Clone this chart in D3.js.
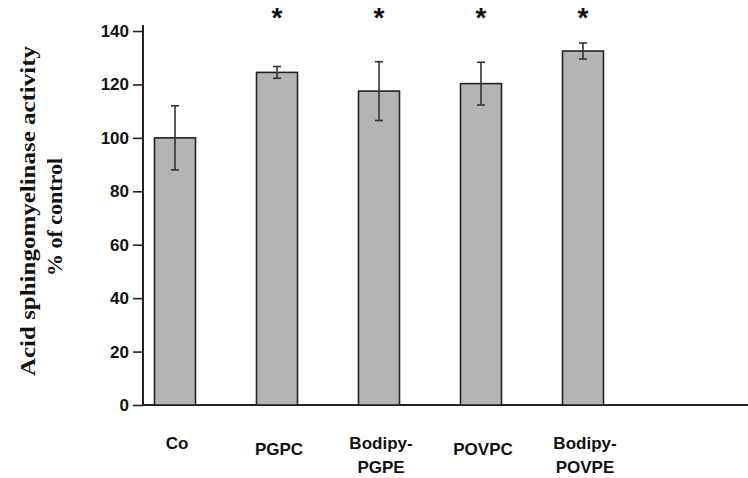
<!DOCTYPE html>
<html>
<head>
<meta charset="utf-8">
<script src="https://cdn.jsdelivr.net/npm/d3@7"></script>
<style>
  body { margin: 0; background: #fff; }
  svg { display: block; }
</style>
</head>
<body>
<div id="chart"></div>
<script>
// data
const categories = ["Co", "PGPC", "Bodipy-PGPE", "POVPC", "Bodipy-POVPE"];
const labelLines = [["Co"], ["PGPC"], ["Bodipy-", "PGPE"], ["POVPC"], ["Bodipy-", "POVPE"]];
const values = [100, 124.5, 117.5, 120.3, 132.5];
const errors = [12, 2.2, 11, 8, 3];
const significant = [false, true, true, true, true];
const yTicks = [0, 20, 40, 60, 80, 100, 120, 140];

const width = 748;
const height = 478;

const svg = d3.select("#chart").append("svg")
    .attr("width", width)
    .attr("height", height);

const x = d3.scalePoint().domain(categories).range([175, 583]);
const y = d3.scaleLinear().domain([0, 140]).range([405, 31]);
const barWidth = 41;

// y axis
const yAxis = d3.axisLeft(y).tickValues(yTicks).tickSize(10).tickPadding(4);
const yG = svg.append("g").attr("transform", "translate(143,0)").call(yAxis);
yG.select(".domain").attr("d", `M0,${y(0)}V${y(140) - 6}`).attr("stroke", "#222").attr("stroke-width", 2);
yG.selectAll(".tick line").attr("stroke", "#222").attr("stroke-width", 1.6);
yG.selectAll(".tick text")
    .attr("font-family", "Liberation Sans, Arial, sans-serif")
    .attr("font-weight", "bold")
    .attr("font-size", 17)
    .attr("fill", "#111");

// x axis baseline
svg.append("line")
    .attr("x1", 143).attr("x2", width)
    .attr("y1", y(0)).attr("y2", y(0))
    .attr("stroke", "#222").attr("stroke-width", 2);

// bars
svg.selectAll("rect.bar")
    .data(categories)
    .join("rect")
    .attr("class", "bar")
    .attr("x", d => x(d) - barWidth / 2)
    .attr("y", (d, i) => y(values[i]))
    .attr("width", barWidth)
    .attr("height", (d, i) => y(0) - y(values[i]))
    .attr("fill", "#b4b4b4")
    .attr("stroke", "#222")
    .attr("stroke-width", 1.6);

// error bars
const errG = svg.selectAll("g.err")
    .data(categories)
    .join("g")
    .attr("class", "err")
    .attr("stroke", "#333")
    .attr("stroke-width", 1.6);

errG.append("line")
    .attr("x1", d => x(d)).attr("x2", d => x(d))
    .attr("y1", (d, i) => y(values[i] + errors[i]))
    .attr("y2", (d, i) => y(values[i] - errors[i]));

[1, -1].forEach(s => {
    errG.append("line")
        .attr("x1", d => x(d) - 4).attr("x2", d => x(d) + 4)
        .attr("y1", (d, i) => y(values[i] + s * errors[i]))
        .attr("y2", (d, i) => y(values[i] + s * errors[i]));
});

// significance stars
svg.selectAll("text.star")
    .data(categories.filter((d, i) => significant[i]))
    .join("text")
    .attr("class", "star")
    .attr("x", d => x(d))
    .attr("y", 27)
    .attr("text-anchor", "middle")
    .attr("font-family", "Liberation Sans, Arial, sans-serif")
    .attr("font-weight", "bold")
    .attr("font-size", 28)
    .attr("fill", "#111")
    .text("*");

// category labels
const catText = svg.selectAll("text.cat")
    .data(categories)
    .join("text")
    .attr("class", "cat")
    .attr("x", d => x(d) + 2)
    .attr("y", (d, i) => labelLines[i].length > 1 || i === 0 ? 449 : 455)
    .attr("text-anchor", "middle")
    .attr("font-family", "Liberation Sans, Arial, sans-serif")
    .attr("font-weight", "bold")
    .attr("font-size", 17)
    .attr("fill", "#111");

catText.selectAll("tspan")
    .data((d, i) => labelLines[i])
    .join("tspan")
    .attr("x", function () { return d3.select(this.parentNode).attr("x"); })
    .attr("dy", (d, j) => j === 0 ? 0 : 24)
    .text(d => d);

// y title
const title = svg.append("text")
    .attr("transform", "translate(0,211) rotate(-90)")
    .attr("text-anchor", "middle")
    .attr("font-family", "Liberation Serif, Times New Roman, serif")
    .attr("font-weight", "bold")
    .attr("font-size", 22)
    .attr("fill", "#111");

title.append("tspan").attr("x", 0).attr("y", 35)
    .attr("textLength", 330).attr("lengthAdjust", "spacingAndGlyphs")
    .text("Acid sphingomyelinase activity");
title.append("tspan").attr("x", -6).attr("y", 62)
    .text("% of control");
</script>
</body>
</html>
